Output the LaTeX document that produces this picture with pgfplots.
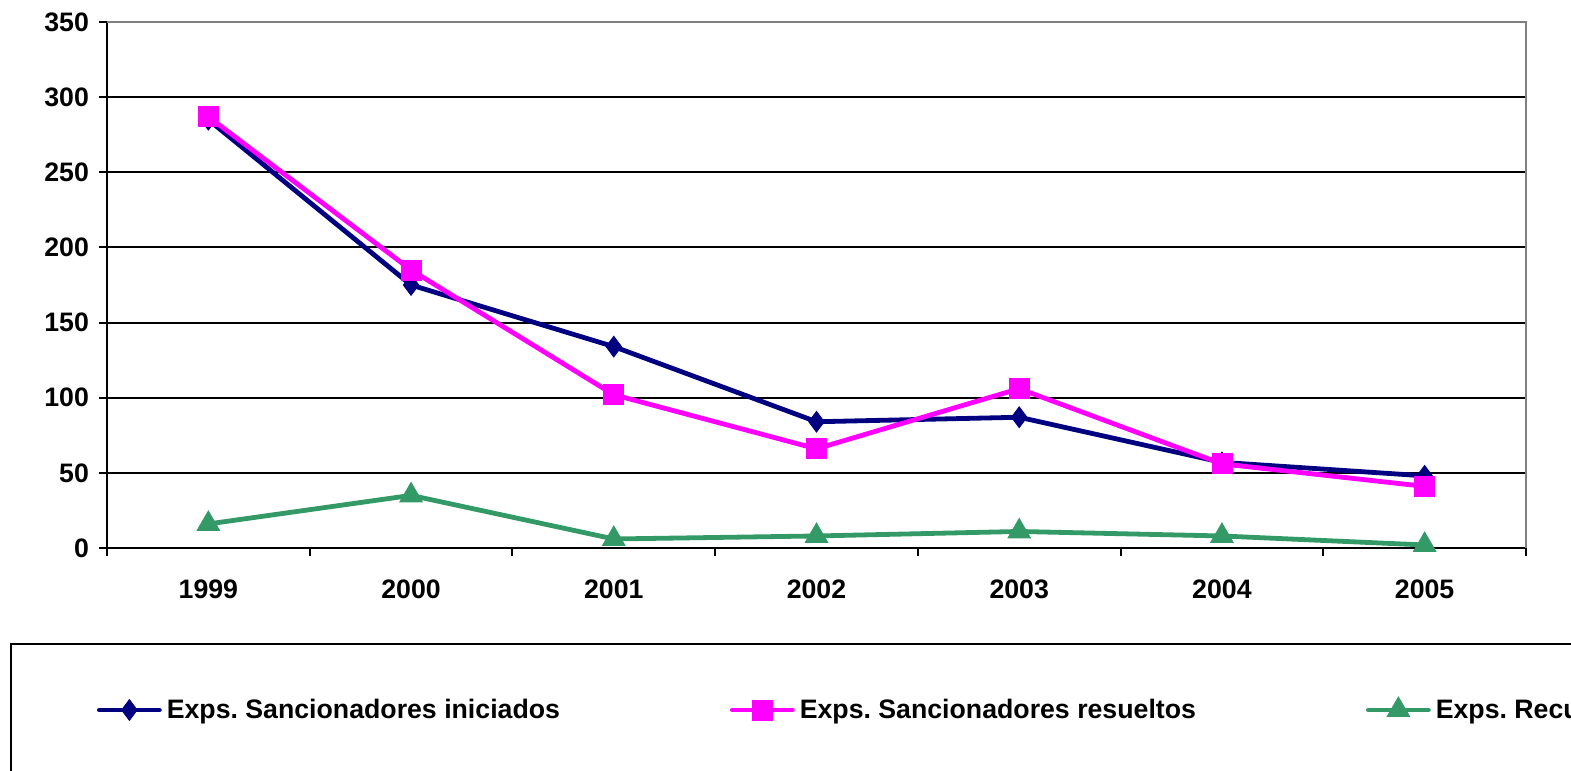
\documentclass[border=0pt]{standalone}
\usepackage{pgfplots}
\pgfplotsset{compat=1.18}
\usepackage{fontspec}
\setmainfont{Liberation Sans}
\definecolor{cblue}{RGB}{0,0,128}
\definecolor{cpink}{RGB}{255,0,255}
\definecolor{cgreen}{RGB}{51,153,102}
\newcommand{\cf}{\fontsize{13.35}{16}\selectfont\bfseries\frenchspacing}
\begin{document}
\frenchspacing
\begin{tikzpicture}
\useasboundingbox (0,0) rectangle (785.5pt,385.5pt);
\clip (0,0) rectangle (785.5pt,385.5pt);
\begin{axis}[
  at={(53.5pt,111.5pt)}, anchor=south west,
  width=709.5pt, height=263pt, scale only axis,
  xmin=-0.5, xmax=6.5, ymin=0, ymax=350,
  axis x line=bottom, axis y line=left,
  axis line style={-, black, line width=1pt},
  xtick={0,...,6},
  xticklabels={1999,2000,2001,2002,2003,2004,2005},
  minor xtick={-0.5,0.5,...,6.5},
  ytick={0,50,...,350},
  major x tick style={draw=none},
  minor x tick style={black, line width=1pt},
  ytick style={black, line width=1pt},
  tick align=outside,
  major tick length=4pt, minor tick length=4pt,
  ymajorgrids, major grid style={black, line width=1pt},
  ticklabel style={font=\cf},
  /pgf/number format/assume math mode=true,
  xticklabel style={yshift=-8.5pt},
  yticklabel style={xshift=-1.5pt},
  clip=false,
  legend columns=3,
  legend style={at={(-0.06836,-0.1806)}, anchor=north west, draw=black, line width=1pt,
    inner xsep=43pt, inner ysep=26.5pt, font=\cf,
    nodes={inner sep=0pt}, column sep=0pt,
    /tikz/every odd column/.append style={column sep=2.5pt},
    /tikz/every even column/.append style={column sep=85pt}},
  legend image code/.code={\draw[mark repeat=2,mark phase=2,#1] plot coordinates {(0pt,0pt)(15pt,0pt)(30pt,0pt)};},
]
\draw[gray, line width=1pt] (rel axis cs:0,1) -- (rel axis cs:1,1) -- (rel axis cs:1,0);
\addplot[cblue, line width=2.4pt, line cap=round, mark=diamond*, mark size=5.2pt,
  mark options={solid, line width=0.4pt, fill=cblue}]
  coordinates {(0,285)(1,175)(2,134)(3,84)(4,87)(5,57)(6,48)};
\addlegendentry{Exps. Sancionadores iniciados}
\addplot[cpink, line width=2.4pt, line cap=round, mark=square*, mark size=5pt,
  mark options={solid, line width=0.4pt, fill=cpink}]
  coordinates {(0,287)(1,185)(2,102)(3,66)(4,106)(5,56)(6,41)};
\addlegendentry{Exps. Sancionadores resueltos}
\addplot[cgreen, line width=2.4pt, line cap=round, mark=triangle*, mark size=6.5pt,
  mark options={solid, line width=0.4pt, fill=cgreen}]
  coordinates {(0,16)(1,35)(2,6)(3,8)(4,11)(5,8)(6,2)};
\addlegendentry{Exps. Recursos de alzada}
\end{axis}
\end{tikzpicture}
\end{document}
